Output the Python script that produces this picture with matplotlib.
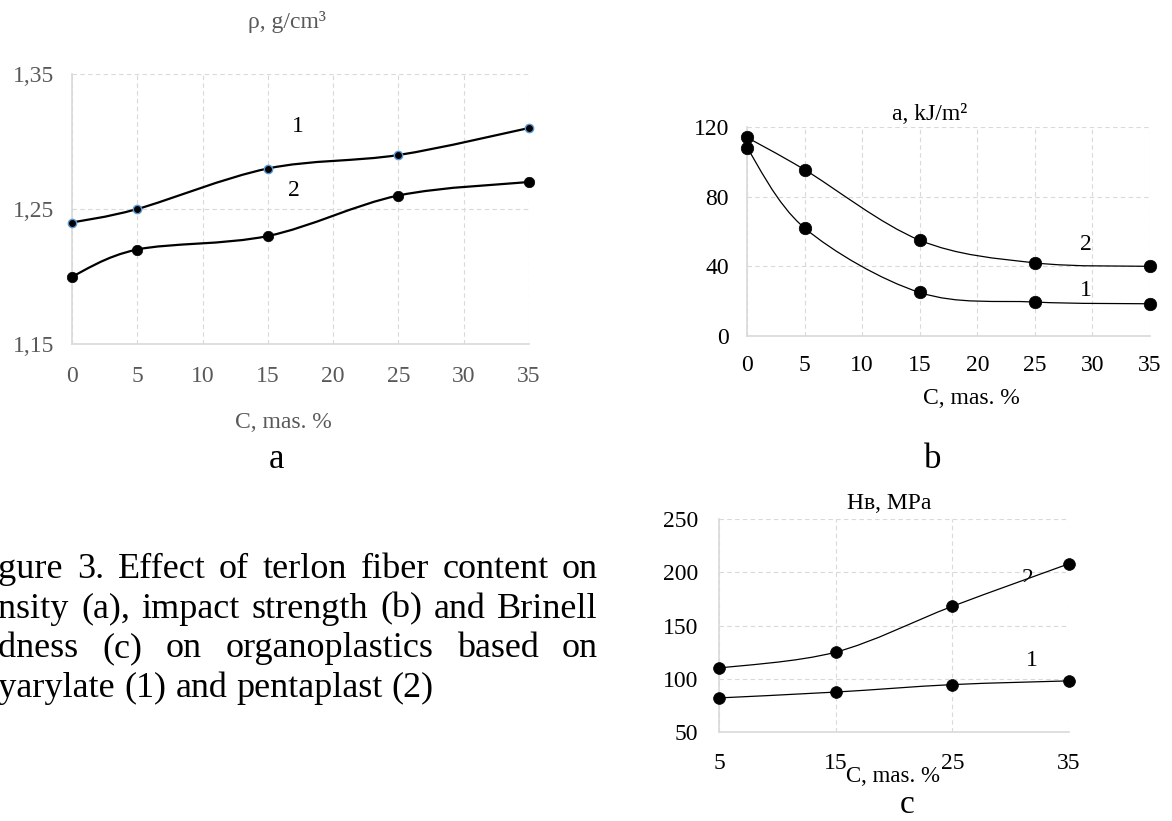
import numpy as np
import matplotlib
matplotlib.use('Agg')
from matplotlib import pyplot as plt
from matplotlib.path import Path
from matplotlib.patches import PathPatch
from matplotlib.transforms import Bbox
from matplotlib.font_manager import FontProperties

plt.rcParams['font.family'] = ['Liberation Serif', 'DejaVu Serif']

W, H = 1172, 821

# a: density
c_a = [0, 5, 15, 25, 35]
rho_1 = [1.24, 1.25, 1.28, 1.29, 1.31]
rho_2 = [1.20, 1.22, 1.23, 1.26, 1.27]
yticks_a = [1.15, 1.25, 1.35]
ylabels_a = ['1,15', '1,25', '1,35']

# b: impact strength
c_b = [0, 5, 15, 25, 35]
imp_1 = [108, 62, 25, 19.5, 18.5]
imp_2 = [114, 95.5, 55, 42, 40]

# c: Brinell hardness
c_c = [5, 15, 25, 35]
hb_1 = [82, 87.5, 94.5, 98]
hb_2 = [110, 125, 168, 208]

caption = ["Figure 3. Effect of terlon fiber content on",
           "density (a), impact strength (b) and Brinell",
           "hardness (c) on organoplastics based on",
           "polyarylate (1) and pentaplast (2)"]
# part of the first word that falls off the left edge of the crop
hidden = ['Fi', 'de', 'har', 'pol']

GRID = '#d9d9d9'
GRAY = '#595959'
FS = 17


def px(x, y):
    return x / W, 1 - y / H


def axes_px(x0, y0, x1, y1):
    return fig.add_axes([x0 / W, 1 - y1 / H, (x1 - x0) / W, (y1 - y0) / H])


def smooth(xs, ys):
    # excel style smoothed line, bezier through the points
    p = np.column_stack([xs, ys]).astype(float)
    q = np.vstack([p[:1], p, p[-1:]])
    verts = [p[0]]
    codes = [Path.MOVETO]
    for i in range(1, len(q) - 2):
        c1 = q[i] + (q[i + 1] - q[i - 1]) / 6.
        c2 = q[i + 1] - (q[i + 2] - q[i]) / 6.
        verts += [c1, c2, q[i + 1]]
        codes += [Path.CURVE4] * 3
    return Path(verts, codes)


def style(ax, xlim, ylim, xt, yt, tcol, xpad, ypad):
    ax.set_xlim(*xlim)
    ax.set_ylim(*ylim)
    ax.set_xticks(xt)
    ax.set_yticks(yt)
    for s in ['top', 'right']:
        ax.spines[s].set_visible(False)
    for s in ['left', 'bottom']:
        ax.spines[s].set_color(GRID)
        ax.spines[s].set_linewidth(1.2)
    ax.grid(True, color=GRID, linestyle=(0, (4, 3)), linewidth=0.8)
    ax.set_axisbelow(True)
    ax.tick_params(axis='both', length=0, labelsize=FS, labelcolor=tcol)
    ax.tick_params(axis='x', pad=xpad)
    ax.tick_params(axis='y', pad=ypad)


def curve(ax, xs, ys, lw, ms, mec='k', mew=0.5):
    ax.add_patch(PathPatch(smooth(xs, ys), fill=False, ec='k', lw=lw, clip_on=False))
    ax.plot(xs, ys, 'o', ls='none', color='k', ms=ms, mec=mec, mew=mew, clip_on=False, zorder=5)


fig = plt.figure(figsize=(W / 100., H / 100.), dpi=100)

# ---- a
ax = axes_px(72, 74, 529, 344)
style(ax, (0, 35), (1.15, 1.35), range(0, 36, 5), yticks_a, GRAY, 16, 13)
ax.set_yticklabels(ylabels_a)
curve(ax, c_a, rho_1, 1.6, 6, mec='#5b9bd5', mew=1.0)
curve(ax, c_a, rho_2, 1.6, 7.5)
fig.text(*px(298, 127), '1', fontsize=FS, ha='center', va='center')
fig.text(*px(294, 190), '2', fontsize=FS, ha='center', va='center')
fig.text(*px(287, 22), 'ρ, g/cm³', fontsize=FS, color=GRAY, ha='center', va='center')
fig.text(*px(283, 422), 'C, mas. %', fontsize=FS, color=GRAY, ha='center', va='center')
fig.text(*px(277, 460), 'a', fontsize=25, ha='center', va='center')

# ---- b
ax = axes_px(747, 127, 1150, 336)
style(ax, (0, 35), (0, 120), range(0, 36, 5), range(0, 121, 40), 'k', 14, 13)
curve(ax, c_b, imp_1, 0.9, 9)
curve(ax, c_b, imp_2, 0.9, 9)
fig.text(*px(1086, 245), '2', fontsize=FS, ha='center', va='center')
fig.text(*px(1086, 291), '1', fontsize=FS, ha='center', va='center')
fig.text(*px(930, 114), 'a, kJ/m²', fontsize=FS, ha='center', va='center')
fig.text(*px(971, 398), 'C, mas. %', fontsize=FS, ha='center', va='center')
fig.text(*px(933, 459), 'b', fontsize=25, ha='center', va='center')

# ---- c
ax = axes_px(719, 519, 1069, 732)
style(ax, (5, 35), (50, 250), c_c, range(50, 251, 50), 'k', 15, 15)
curve(ax, c_c, hb_1, 0.9, 8.5)
curve(ax, c_c, hb_2, 0.9, 8.5)
t2 = fig.text(*px(1028, 578), '2', fontsize=FS, ha='center', va='center')
t2.set_clip_box(Bbox([[0, H - 582], [W, H]]))
fig.text(*px(1032, 660), '1', fontsize=FS, ha='center', va='center')
fig.text(*px(889, 503), 'Hв, MPa', fontsize=FS, ha='center', va='center')
fig.text(*px(893, 776), 'C, mas. %', fontsize=16.5, ha='center', va='center')
fig.text(*px(907, 805), 'c', fontsize=24, ha='center', va='center')

# ---- caption, justified like the source document
r = fig.canvas.get_renderer()
fp = FontProperties(family=['Liberation Serif'], size=26)


def tw(s):
    return r.get_text_width_height_descent(s, fp, ismath=False)[0]


space = tw('a a') - tw('aa')
R = 598
for i, line in enumerate(caption):
    y = 578 + 39.5 * i
    words = line.split()
    L = -1 - tw(hidden[i])
    widths = [tw(w) for w in words]
    if i < len(caption) - 1:
        gap = (R - L - sum(widths)) / (len(words) - 1)
    else:
        gap = space
    x = L
    for w, wd in zip(words, widths):
        fig.text(*px(x, y), w, fontproperties=fp, va='baseline')
        x += wd + gap

fig.savefig('out.png', dpi=100)
